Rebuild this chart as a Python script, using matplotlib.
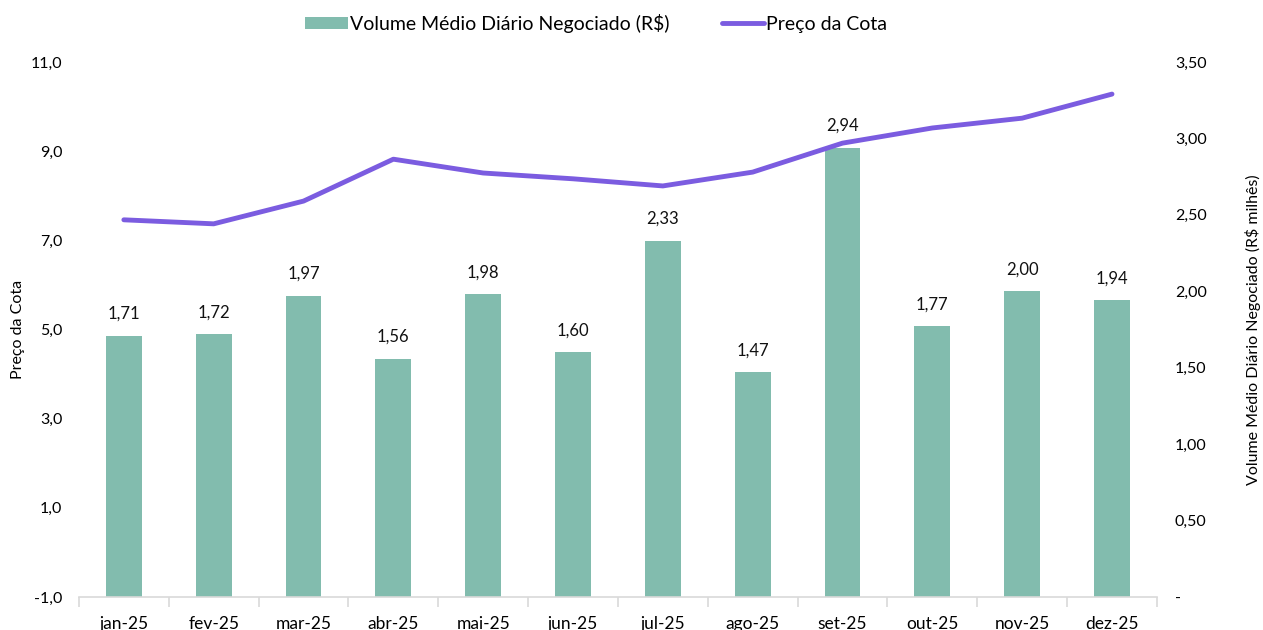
import matplotlib
matplotlib.use("Agg")
import matplotlib.pyplot as plt
import numpy as np

months = ["jan-25", "fev-25", "mar-25", "abr-25", "mai-25", "jun-25",
          "jul-25", "ago-25", "set-25", "out-25", "nov-25", "dez-25"]
volume = [1.71, 1.72, 1.97, 1.56, 1.98, 1.60, 2.33, 1.47, 2.94, 1.77, 2.00, 1.94]
price = [7.46, 7.37, 7.88, 8.82, 8.51, 8.38, 8.22, 8.53, 9.18, 9.52, 9.74, 10.28]
left_ticks = [-1, 1, 3, 5, 7, 9, 11]
right_ticks = [0, 0.5, 1.0, 1.5, 2.0, 2.5, 3.0, 3.5]

plt.rcParams['font.family'] = ['Lato', 'DejaVu Sans']

bar_color = "#82BCAE"
line_color = "#7B5CE0"

fig = plt.figure(figsize=(12.63, 6.3), dpi=100)
ax = fig.add_axes([0.0625, 0.0524, 0.8535, 0.8492])
ax2 = ax.twinx()

x = np.arange(len(months))

# bars on right axis
bars = ax2.bar(x, volume, width=0.4, color=bar_color, zorder=2,
               label="Volume Médio Diário Negociado (R$)")
for xi, v in zip(x, volume):
    ax2.text(xi, v + 0.09, f"{v:.2f}".replace(".", ","), ha="center", va="bottom",
             fontsize=12, color="#111111", zorder=5)
ax2.set_ylim(0, 3.5)
ax2.set_yticks(right_ticks)
ax2.set_yticklabels(["-" if t == 0 else f"{t:.2f}".replace(".", ",") for t in right_ticks],
                    fontsize=11.5)
ax2.set_ylabel("Volume Médio Diário Negociado (R$ milhês)", fontsize=11.5)
ax2.yaxis.set_label_coords(1.0816, 0.5)

# line on left axis (drawn above bars)
ax.set_zorder(ax2.get_zorder() + 1)
ax.patch.set_visible(False)
ln, = ax.plot(x, price, color=line_color, linewidth=3.5, solid_capstyle="round",
              label="Preço da Cota", zorder=4)
ax.set_ylim(-1, 11)
ax.set_yticks(left_ticks)
ax.set_yticklabels([f"{t:.1f}".replace(".", ",") for t in left_ticks], fontsize=11.5)
ax.set_ylabel("Preço da Cota", fontsize=11.5)
ax.yaxis.set_label_coords(-0.050, 0.5)

ax.set_xlim(-0.5, len(months) - 0.5)
ax.set_xticks(x)
ax.set_xticklabels(months, fontsize=12.5)
ax.set_xticks(np.arange(-0.5, len(months)), minor=True)
ax.tick_params(axis="x", which="major", length=0, pad=14)
ax.tick_params(axis="x", which="minor", length=7, color="#d9d9d9", width=1.2)
ax.tick_params(axis="y", length=0, pad=12)
ax2.tick_params(axis="y", length=0, pad=13)

for a in (ax, ax2):
    for s in ("top", "left", "right", "bottom"):
        a.spines[s].set_visible(False)
ax.spines["bottom"].set_visible(True)
ax.spines["bottom"].set_color("#d9d9d9")
ax.spines["bottom"].set_linewidth(1.2)

handles = [bars, ln]
labels = [h.get_label() for h in handles]
fig.legend(handles, labels, loc="center", bbox_to_anchor=(0.472, 0.963), ncol=2,
           frameon=False, fontsize=14, handlelength=2.2, handleheight=0.6,
           columnspacing=2.7, handletextpad=0.1)

fig.savefig("out.png", dpi=100)
